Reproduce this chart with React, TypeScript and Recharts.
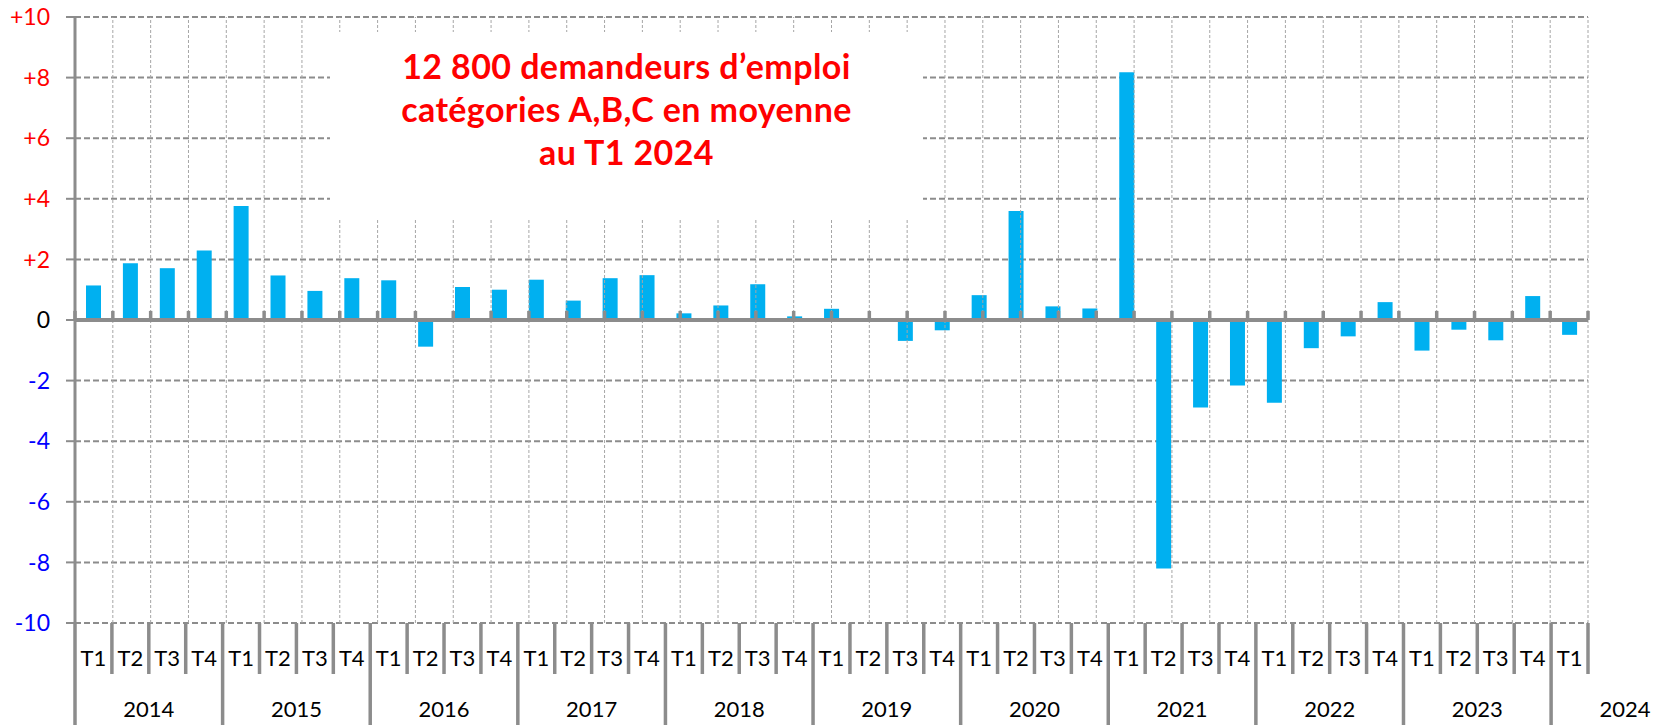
import React from "react";
import {
  BarChart,
  Bar,
  XAxis,
  YAxis,
  CartesianGrid,
  ReferenceLine,
} from "recharts";

// Quarterly change (thousands) of job seekers, categories A,B,C
const years = ["2014", "2015", "2016", "2017", "2018", "2019", "2020", "2021", "2022", "2023", "2024"];
const quarters = ["T1", "T2", "T3", "T4"];
const changes = [
  1.14, 1.87, 1.71, 2.29,
  3.76, 1.47, 0.96, 1.38,
  1.31, -0.88, 1.09, 1.0,
  1.33, 0.64, 1.38, 1.48,
  0.22, 0.48, 1.18, 0.12,
  0.37, 0.0, -0.69, -0.34,
  0.82, 3.6, 0.45, 0.38,
  8.18, -8.2, -2.89, -2.16,
  -2.73, -0.93, -0.54, 0.59,
  -1.01, -0.32, -0.67, 0.79,
  -0.49,
];
const yTicks = [-10, -8, -6, -4, -2, 0, 2, 4, 6, 8, 10];

const W = 1668;
const H = 725;
const LEFT = 75;
const RIGHT = 80;
const TOP = 17;
const X_AXIS_H = 102;
const AXIS_GREY = "#8c8c8c";
const FONT = "Lato, 'Open Sans', sans-serif";

const data = changes.map((value, i) => ({
  key: `${years[Math.floor(i / 4)]}-${quarters[i % 4]}`,
  quarter: quarters[i % 4],
  year: years[Math.floor(i / 4)],
  value,
}));
// category boundaries 0..41 on a hidden numeric axis
const boundaries = data.map((_, i) => i).concat(data.length);

const PLOT_BOTTOM = H - X_AXIS_H;
const BAND = (W - LEFT - RIGHT) / data.length;

const YTick = (props: any) => {
  const { x, y, payload } = props;
  const v = payload.value;
  const color = v > 0 ? "#ff0000" : v < 0 ? "#0000ff" : "#000000";
  const label = v > 0 ? `+${v}` : `${v}`;
  return (
    <text x={x} y={y} dy="0.36em" textAnchor="end" fill={color} fontSize={23} fontFamily={FONT}>
      {label}
    </text>
  );
};

const XTick = (props: any) => {
  const { x, index } = props;
  const d = data[index];
  if (!d) return null;
  const left = x - BAND / 2;
  const isYearStart = index % 4 === 0;
  const isLast = index === data.length - 1;
  return (
    <g>
      <line
        x1={left}
        x2={left}
        y1={PLOT_BOTTOM}
        y2={isYearStart ? H : PLOT_BOTTOM + 51}
        stroke={AXIS_GREY}
        strokeWidth={3.5}
      />
      {isLast && (
        <line
          x1={left + BAND}
          x2={left + BAND}
          y1={PLOT_BOTTOM}
          y2={PLOT_BOTTOM + 51}
          stroke={AXIS_GREY}
          strokeWidth={3.5}
        />
      )}
      <text x={x} y={PLOT_BOTTOM + 43} textAnchor="middle" fill="#000" fontSize={22} fontFamily={FONT}>
        {d.quarter}
      </text>
      {isYearStart && (
        <text x={left + BAND * 2} y={H - 8} textAnchor="middle" fill="#000" fontSize={22} fontFamily={FONT}>
          {d.year}
        </text>
      )}
    </g>
  );
};

const App = () => {
  return (
    <div style={{ position: "absolute", left: 0, top: 0, width: W, height: H, background: "#fff" }}>
      <BarChart
        width={W}
        height={H}
        data={data}
        margin={{ top: TOP, right: RIGHT, bottom: 0, left: 0 }}
      >
        <CartesianGrid
          vertical={false}
          stroke={AXIS_GREY}
          strokeWidth={2}
          strokeDasharray="6 3"
        />
        {boundaries.slice(1).map((b) => (
          <ReferenceLine
            key={`v${b}`}
            xAxisId="num"
            x={b}
            stroke="#a6a6a6"
            strokeWidth={1}
            strokeDasharray="3 2"
          />
        ))}
        <XAxis
          dataKey="key"
          height={X_AXIS_H}
          axisLine={false}
          tickLine={false}
          interval={0}
          tick={<XTick />}
        />
        <XAxis
          xAxisId="num"
          type="number"
          domain={[0, data.length]}
          ticks={boundaries}
          interval={0}
          allowDataOverflow
          hide
        />
        <YAxis
          width={LEFT}
          domain={[-10, 10]}
          ticks={yTicks}
          interval={0}
          axisLine={{ stroke: AXIS_GREY, strokeWidth: 3 }}
          tickLine={{ stroke: AXIS_GREY, strokeWidth: 2 }}
          tickSize={9}
          tickMargin={16}
          tick={<YTick />}
        />
        <Bar dataKey="value" fill="#00b0f0" barSize={15} isAnimationActive={false} />
        <ReferenceLine y={0} stroke={AXIS_GREY} strokeWidth={4} />
        {boundaries.map((b) => (
          <ReferenceLine
            key={b}
            xAxisId="num"
            segment={[
              { x: b, y: 0 },
              { x: b, y: 0.3 },
            ]}
            stroke={AXIS_GREY}
            strokeWidth={3.5}
          />
        ))}
      </BarChart>
      <div
        style={{
          position: "absolute",
          left: 330,
          top: 32,
          width: 593,
          height: 188,
          background: "#fff",
          boxSizing: "border-box",
          paddingTop: 12,
          textAlign: "center",
          color: "#ff0000",
          fontFamily: FONT,
          fontWeight: 700,
          fontSize: 34,
          letterSpacing: 0.4,
          lineHeight: "43px",
        }}
      >
        <div>12 800 demandeurs d’emploi</div>
        <div>catégories A,B,C en moyenne</div>
        <div>au T1 2024</div>
      </div>
    </div>
  );
};

export default App;
